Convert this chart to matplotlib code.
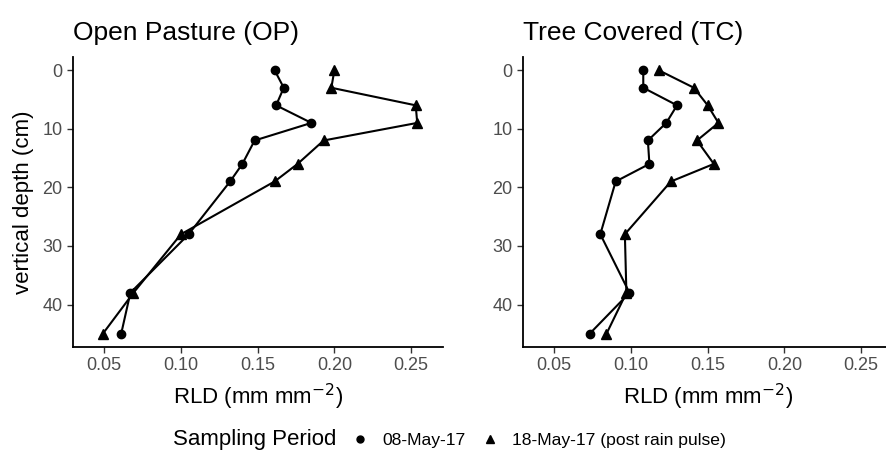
import matplotlib.pyplot as plt
from matplotlib.lines import Line2D

plt.rcParams['font.family'] = ['Liberation Sans', 'DejaVu Sans']

depth = [0, 3, 6, 9, 12, 16, 19, 28, 38, 45]

# Open Pasture (OP)
op_may08 = [0.161, 0.167, 0.162, 0.185, 0.148, 0.140, 0.132, 0.105, 0.067, 0.061]
op_may18 = [0.200, 0.198, 0.253, 0.254, 0.193, 0.176, 0.161, 0.100, 0.069, 0.049]

# Tree Covered (TC)
tc_may08 = [0.108, 0.108, 0.130, 0.123, 0.111, 0.112, 0.090, 0.080, 0.099, 0.073]
tc_may18 = [0.118, 0.141, 0.150, 0.157, 0.143, 0.154, 0.126, 0.096, 0.097, 0.084]

panels = [("Open Pasture (OP)", op_may08, op_may18),
          ("Tree Covered (TC)", tc_may08, tc_may18)]
series_labels = ["08-May-17", "18-May-17 (post rain pulse)"]
xticks = [0.05, 0.10, 0.15, 0.20, 0.25]
yticks = [0, 10, 20, 30, 40]

fig = plt.figure(figsize=(8.87, 4.54), dpi=100)
W, H = 887, 454
lefts = [72.7, 522.7]
ax_w = 370
ax_top, ax_bot = 57, 347

for i, (title, s1, s2) in enumerate(panels):
    ax = fig.add_axes([lefts[i] / W, (H - ax_bot) / H, ax_w / W, (ax_bot - ax_top) / H])
    ax.plot(s1, depth, color='black', lw=1.5, marker='o', ms=6, zorder=3)
    ax.plot(s2, depth, color='black', lw=1.5, marker='^', ms=7.5, zorder=3)
    ax.set_xlim(0.0294, 0.2706)
    ax.set_ylim(47.25, -2.25)
    ax.set_xticks(xticks)
    ax.set_xticklabels([f"{t:.2f}" for t in xticks])
    ax.set_yticks(yticks)
    ax.tick_params(labelsize=13, labelcolor='#4D4D4D', color='#333333', length=4, width=1)
    for side in ['top', 'right']:
        ax.spines[side].set_visible(False)
    for side in ['left', 'bottom']:
        ax.spines[side].set_linewidth(1.3)
    ax.set_xlabel("RLD (mm mm$^{-2}$)", fontsize=16, labelpad=5)
    ax.set_title(title, fontsize=19, loc='left', pad=12)
    if i == 0:
        ax.set_ylabel("vertical depth (cm)", fontsize=16, labelpad=6)

fig.text(173 / W, 1 - 440 / H, "Sampling Period", fontsize=16, va='center', ha='left')
handles = [Line2D([], [], color='black', marker='o', ls='none', ms=5),
           Line2D([], [], color='black', marker='^', ls='none', ms=6)]
fig.legend(handles, series_labels, loc='center left', bbox_to_anchor=(351 / W, 1 - 440 / H),
           ncol=2, frameon=False, fontsize=12.6, handlelength=1.0, handletextpad=0.8,
           columnspacing=0.86, borderpad=0, borderaxespad=0)

fig.savefig("out.png", dpi=100)
